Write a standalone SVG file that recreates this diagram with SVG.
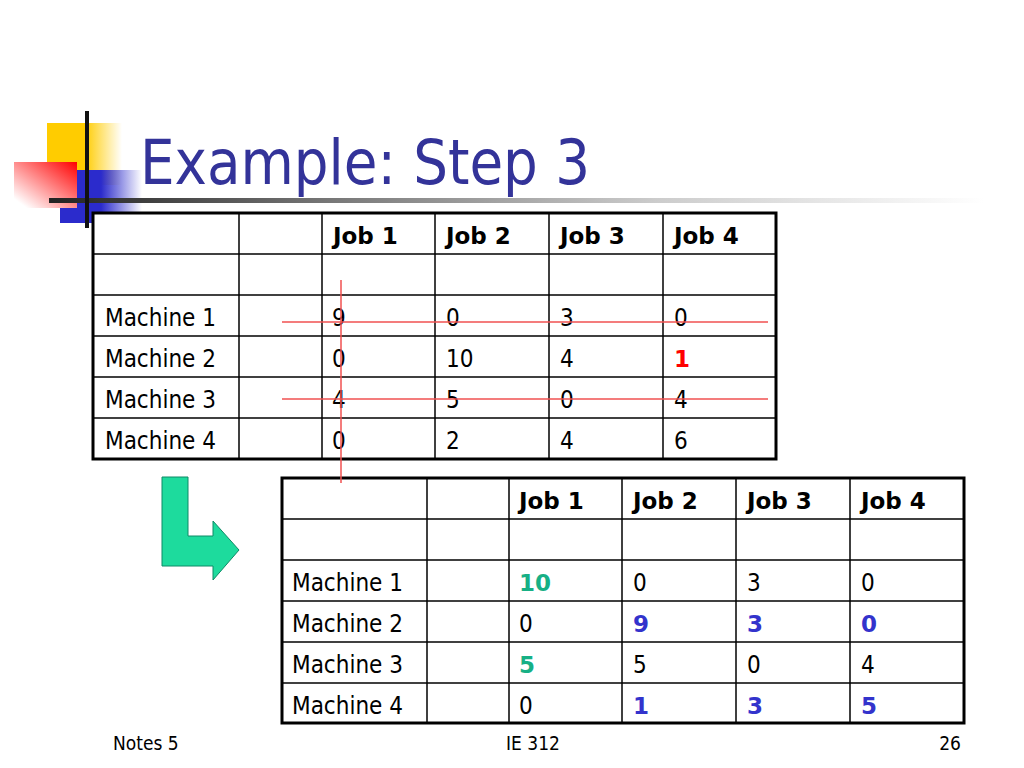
<svg xmlns="http://www.w3.org/2000/svg" width="1024" height="768" viewBox="0 0 1024 768">
<style>
.t{font-family:"DejaVu Sans Condensed","DejaVu Sans",sans-serif;font-stretch:condensed;font-size:24px;fill:#000}
.b{font-family:"DejaVu Sans",sans-serif;font-stretch:normal;font-size:23px;font-weight:bold}
.g{fill:#17B085}
.u{fill:#3333CC}
.r{fill:#FF0000}
.outer{fill:#fff;stroke:#000;stroke-width:3}
.grid{stroke:#000;stroke-width:1.5}
.cross{stroke:#F05050;stroke-width:1.5}
.foot{font-family:"DejaVu Sans Condensed","DejaVu Sans",sans-serif;font-stretch:condensed;font-size:19px;fill:#000}
</style>
<defs>
<linearGradient id="yel" x1="0" y1="0" x2="1" y2="0">
<stop offset="0" stop-color="#FFCC00"/><stop offset="0.5" stop-color="#FFCC00"/><stop offset="1" stop-color="#FFCC00" stop-opacity="0"/>
</linearGradient>
<linearGradient id="blu" x1="0" y1="0" x2="1" y2="0">
<stop offset="0" stop-color="#2B2BCC"/><stop offset="0.5" stop-color="#2B2BCC"/><stop offset="1" stop-color="#2B2BCC" stop-opacity="0"/>
</linearGradient>
<linearGradient id="red" x1="1" y1="0" x2="0" y2="1">
<stop offset="0" stop-color="#FF0000"/><stop offset="0.9" stop-color="#FFFFFF"/><stop offset="1" stop-color="#FFFFFF"/>
</linearGradient>
<linearGradient id="bar" x1="0" y1="0" x2="1" y2="0">
<stop offset="0" stop-color="#222"/><stop offset="0.3" stop-color="#777"/><stop offset="0.65" stop-color="#ccc"/><stop offset="1" stop-color="#fff"/>
</linearGradient>
</defs>
<rect width="1024" height="768" fill="#fff"/>
<g id="decor">
<rect x="47" y="123" width="75" height="62" fill="url(#yel)"/>
<rect x="60" y="170" width="82" height="53" fill="url(#blu)"/>
<rect x="14" y="162" width="63" height="46" fill="url(#red)"/>
<rect x="49" y="198" width="935" height="5" fill="url(#bar)"/>
<rect x="85" y="111" width="4" height="117" fill="#111"/>
</g>
<text id="title" x="140" y="184" font-family="DejaVu Sans Condensed, DejaVu Sans, sans-serif" font-stretch="condensed" font-size="62" fill="#333399" textLength="450" lengthAdjust="spacingAndGlyphs">Example: Step 3</text>
<g id="table1">
<rect class="outer" x="93" y="213" width="683" height="246"/>
<g class="grid">
<line x1="239" y1="213" x2="239" y2="459"/><line x1="322" y1="213" x2="322" y2="459"/><line x1="435" y1="213" x2="435" y2="459"/><line x1="549" y1="213" x2="549" y2="459"/><line x1="663" y1="213" x2="663" y2="459"/>
<line x1="93" y1="254" x2="776" y2="254"/><line x1="93" y1="295" x2="776" y2="295"/><line x1="93" y1="336" x2="776" y2="336"/><line x1="93" y1="377" x2="776" y2="377"/><line x1="93" y1="418" x2="776" y2="418"/>
</g>
<g class="t b"><text x="333" y="244">Job 1</text><text x="446" y="244">Job 2</text><text x="560" y="244">Job 3</text><text x="674" y="244">Job 4</text></g>
<g class="t">
<text x="105" y="326">Machine 1</text><text x="332" y="326">9</text><text x="446" y="326">0</text><text x="560" y="326">3</text><text x="674" y="326">0</text>
<text x="105" y="367">Machine 2</text><text x="332" y="367">0</text><text x="446" y="367">10</text><text x="560" y="367">4</text><text x="674" y="367" class="t b r">1</text>
<text x="105" y="408">Machine 3</text><text x="332" y="408">4</text><text x="446" y="408">5</text><text x="560" y="408">0</text><text x="674" y="408">4</text>
<text x="105" y="449">Machine 4</text><text x="332" y="449">0</text><text x="446" y="449">2</text><text x="560" y="449">4</text><text x="674" y="449">6</text>
</g>
</g>
<g id="arrow">
<path d="M162 477 H188 V536 H213 V521 L239 550 L213 580 V566 H162 Z" fill="#1DDB9D" stroke="#0E8A66" stroke-width="1"/>
</g>
<g id="table2">
<rect class="outer" x="282" y="478" width="682" height="245"/>
<g class="grid">
<line x1="427" y1="478" x2="427" y2="723"/><line x1="509" y1="478" x2="509" y2="723"/><line x1="622" y1="478" x2="622" y2="723"/><line x1="736" y1="478" x2="736" y2="723"/><line x1="850" y1="478" x2="850" y2="723"/>
<line x1="282" y1="519" x2="964" y2="519"/><line x1="282" y1="560" x2="964" y2="560"/><line x1="282" y1="601" x2="964" y2="601"/><line x1="282" y1="642" x2="964" y2="642"/><line x1="282" y1="683" x2="964" y2="683"/>
</g>
<g class="t b"><text x="519" y="509">Job 1</text><text x="633" y="509">Job 2</text><text x="747" y="509">Job 3</text><text x="861" y="509">Job 4</text></g>
<g class="t">
<text x="292" y="591">Machine 1</text><text x="519" y="591" class="t b g">10</text><text x="633" y="591">0</text><text x="747" y="591">3</text><text x="861" y="591">0</text>
<text x="292" y="632">Machine 2</text><text x="519" y="632">0</text><text x="633" y="632" class="t b u">9</text><text x="747" y="632" class="t b u">3</text><text x="861" y="632" class="t b u">0</text>
<text x="292" y="673">Machine 3</text><text x="519" y="673" class="t b g">5</text><text x="633" y="673">5</text><text x="747" y="673">0</text><text x="861" y="673">4</text>
<text x="292" y="714">Machine 4</text><text x="519" y="714">0</text><text x="633" y="714" class="t b u">1</text><text x="747" y="714" class="t b u">3</text><text x="861" y="714" class="t b u">5</text>
</g>
</g>
<g id="crossout">
<line class="cross" x1="282" y1="322" x2="768" y2="322"/>
<line class="cross" x1="282" y1="399" x2="768" y2="399"/>
<line class="cross" x1="341" y1="280" x2="341" y2="483"/>
</g>
<g id="footer">
<text class="foot" x="113" y="750">Notes 5</text>
<text class="foot" x="506" y="750">IE 312</text>
<text class="foot" x="961" y="750" text-anchor="end">26</text>
</g>
</svg>
